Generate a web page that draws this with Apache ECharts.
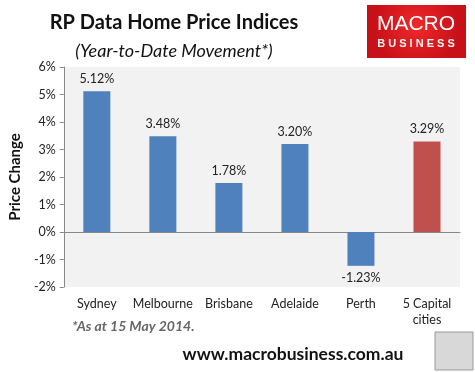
<!DOCTYPE html>
<html><head><meta charset="utf-8">
<script src="https://cdn.jsdelivr.net/npm/echarts@6/dist/echarts.min.js"></script>
<style>html,body{margin:0;padding:0;background:#fff}#c{width:475px;height:372px}</style>
</head><body><div id="c"></div>
<script>
const categories = ['Sydney', 'Melbourne', 'Brisbane', 'Adelaide', 'Perth', '5 Capital\ncities'];
const values = [5.12, 3.48, 1.78, 3.20, -1.23, 3.29];
const yTicks = [-2, -1, 0, 1, 2, 3, 4, 5, 6];

const FONT = 'Lato, "Open Sans", sans-serif';
const chart = echarts.init(document.getElementById('c'), null, {renderer: 'canvas'});
chart.setOption({
  animation: false,
  backgroundColor: '#fff',
  textStyle: {fontFamily: FONT},
  grid: {left: 57, right: 15, top: 67, bottom: 85, show: true, backgroundColor: '#F2F2F2', borderWidth: 0},
  title: [
    {text: 'RP Data Home Price Indices', left: 169, top: 8, textAlign: 'center',
     textStyle: {fontFamily: FONT, fontSize: 20, fontWeight: 'bold', color: '#111'}},
    {text: '(Year-to-Date Movement*)', left: 169, top: 37, textAlign: 'center',
     textStyle: {fontFamily: FONT, fontSize: 18, fontStyle: 'italic', fontWeight: 'normal', color: '#111'}}
  ],
  xAxis: {
    type: 'category', data: categories,
    axisLine: {show: true, onZero: true, lineStyle: {color: '#888', width: 1}},
    axisTick: {show: false},
    axisLabel: {interval: 0, color: '#222', fontSize: 12.5, fontFamily: FONT, lineHeight: 16, margin: 9},
    position: 'bottom'
  },
  yAxis: {
    type: 'value', min: yTicks[0], max: yTicks[yTicks.length - 1], interval: 1,
    name: 'Price Change', nameLocation: 'middle', nameGap: 37,
    nameTextStyle: {fontFamily: FONT, fontSize: 15, fontWeight: 'bold', color: '#111'},
    axisLine: {show: true, lineStyle: {color: '#888'}},
    axisTick: {show: true, length: 4, lineStyle: {color: '#888'}},
    axisLabel: {formatter: '{value}%', color: '#222', fontSize: 12.5, fontFamily: FONT, margin: 8},
    splitLine: {show: false}
  },
  series: [{
    type: 'bar', barWidth: 27,
    data: values.map((v, i) => ({
      value: v,
      itemStyle: {color: i === values.length - 1 ? '#C0504D' : '#4F81BD'},
      label: {position: v >= 0 ? 'top' : 'bottom'}
    })),
    label: {show: true, formatter: p => p.value.toFixed(2) + '%', color: '#222', fontSize: 12.5, fontFamily: FONT, distance: 6}
  }],
  graphic: [
    {type: 'rect', shape: {x: 367, y: 5, width: 99, height: 53},
     style: {fill: {type: 'radial', x: 0.5, y: 0.4, r: 0.8, colorStops: [{offset: 0, color: '#F0282A'}, {offset: 1, color: '#C81018'}]}}},
    {type: 'text', style: {x: 416, y: 14, text: 'MACRO', textAlign: 'center', fill: '#fff', font: '21px "Liberation Sans", Arial, sans-serif'}},
    {type: 'text', style: {x: 416, y: 38, text: 'B U S I N E S S', textAlign: 'center', fill: '#f4f4f4', font: 'bold 11px "Liberation Sans", Arial, sans-serif'}},
    {type: 'text', style: {x: 72, y: 319, text: '*As at 15 May 2014.', fill: '#666', font: 'italic bold 14px Lato, "Open Sans", sans-serif'}},
    {type: 'text', style: {x: 293, y: 345, text: 'www.macrobusiness.com.au', textAlign: 'center', fill: '#111', font: 'bold 17.5px Lato, "Open Sans", sans-serif'}},
    {type: 'rect', shape: {x: 435, y: 332, width: 38, height: 38}, style: {fill: '#D8D8D8', stroke: '#999', lineWidth: 1}}
  ]
});
</script></body></html>
